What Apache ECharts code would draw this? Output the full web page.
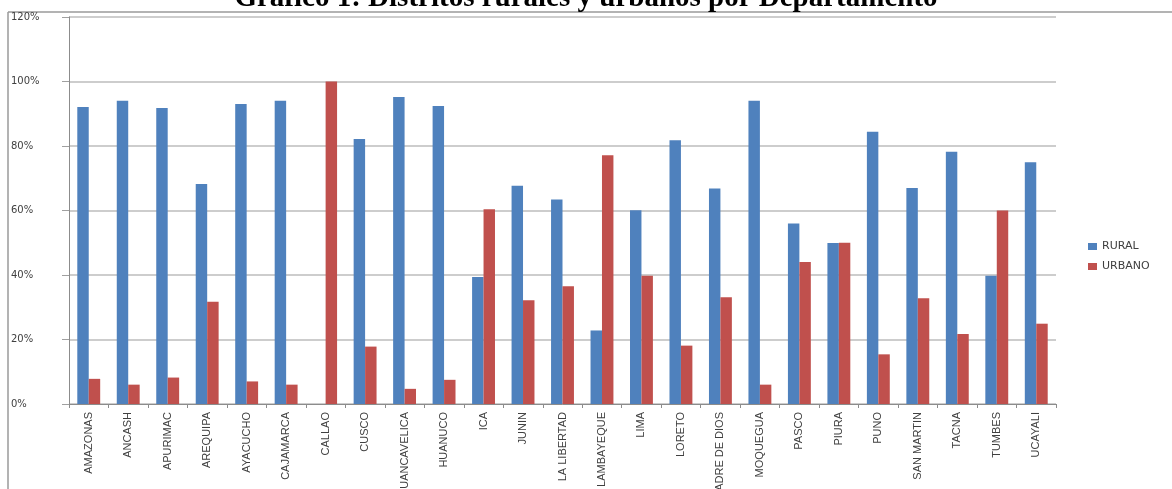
<!DOCTYPE html>
<html>
<head>
<meta charset="utf-8">
<script src="https://cdn.jsdelivr.net/npm/echarts@6/dist/echarts.min.js"></script>
<style>
html,body{margin:0;padding:0;background:#fff;}
#chart{width:1172px;height:489px;}
</style>
</head>
<body>
<div id="chart"></div>
<script>
const titleText = 'Gráfico 1: Distritos rurales y urbanos por Departamento';
const categories = ['AMAZONAS','ANCASH','APURIMAC','AREQUIPA','AYACUCHO','CAJAMARCA','CALLAO','CUSCO','HUANCAVELICA','HUANUCO','ICA','JUNIN','LA LIBERTAD','LAMBAYEQUE','LIMA','LORETO','MADRE DE DIOS','MOQUEGUA','PASCO','PIURA','PUNO','SAN MARTIN','TACNA','TUMBES','UCAYALI'];
const rural  = [92.1, 94.0, 91.8, 68.2, 93.0, 94.0, 0, 82.2, 95.2, 92.4, 39.4, 67.7, 63.4, 22.8, 60.1, 81.8, 66.8, 94.0, 56.0, 49.9, 84.4, 67.0, 78.2, 39.8, 75.0];
const urbano = [7.8, 6.0, 8.2, 31.7, 7.0, 6.0, 100, 17.8, 4.7, 7.5, 60.4, 32.2, 36.5, 77.1, 39.8, 18.1, 33.1, 6.0, 44.0, 50.0, 15.4, 32.8, 21.7, 60.0, 24.9];
const seriesNames = ['RURAL', 'URBANO'];
const yTicks = {min: 0, max: 120, interval: 20};

const chart = echarts.init(document.getElementById('chart'), null, {renderer: 'canvas'});
chart.setOption({
  animation: false,
  backgroundColor: '#ffffff',
  title: {
    text: titleText,
    left: 'center',
    top: -21,
    textStyle: {fontFamily: 'Liberation Serif', fontWeight: 'bold', fontSize: 29, color: '#000'}
  },
  graphic: [
    {type: 'line', shape: {x1: 8, y1: 12, x2: 1172, y2: 12}, style: {stroke: '#9a9a9a', lineWidth: 1.5}, silent: true},
    {type: 'line', shape: {x1: 8, y1: 12, x2: 8, y2: 489}, style: {stroke: '#9a9a9a', lineWidth: 1.5}, silent: true}
  ],
  legend: {
    orient: 'vertical',
    left: 1083,
    top: 236,
    itemWidth: 9,
    itemHeight: 7,
    itemGap: 9,
    icon: 'rect',
    data: seriesNames,
    textStyle: {fontFamily: 'DejaVu Sans', fontSize: 11, color: '#404040'}
  },
  grid: {left: 69, right: 116, top: 17, bottom: 85, containLabel: false, outerBoundsMode: 'none'},
  xAxis: {
    type: 'category',
    data: categories,
    axisLine: {lineStyle: {color: '#8c8c8c', width: 1}},
    axisTick: {show: true, length: 4, lineStyle: {color: '#8c8c8c'}},
    axisLabel: {rotate: 90, margin: 8, fontFamily: 'Liberation Sans', fontSize: 11, color: '#404040', interval: 0}
  },
  yAxis: {
    type: 'value',
    min: yTicks.min,
    max: yTicks.max,
    interval: yTicks.interval,
    axisLine: {show: true, lineStyle: {color: '#8c8c8c', width: 1}},
    axisTick: {show: true, length: 7, lineStyle: {color: '#a0a0a0'}},
    splitLine: {lineStyle: {color: '#bdbdbd', width: 1.5}},
    axisLabel: {formatter: '{value}%', align: 'left', margin: 58, fontFamily: 'DejaVu Sans', fontSize: 10, color: '#404040'}
  },
  series: [
    {name: seriesNames[0], type: 'bar', data: rural, barGap: '0%', barCategoryGap: '42%', itemStyle: {color: '#4F81BD'}},
    {name: seriesNames[1], type: 'bar', data: urbano, barGap: '0%', barCategoryGap: '42%', itemStyle: {color: '#C0504D'}}
  ]
});
</script>
</body>
</html>
